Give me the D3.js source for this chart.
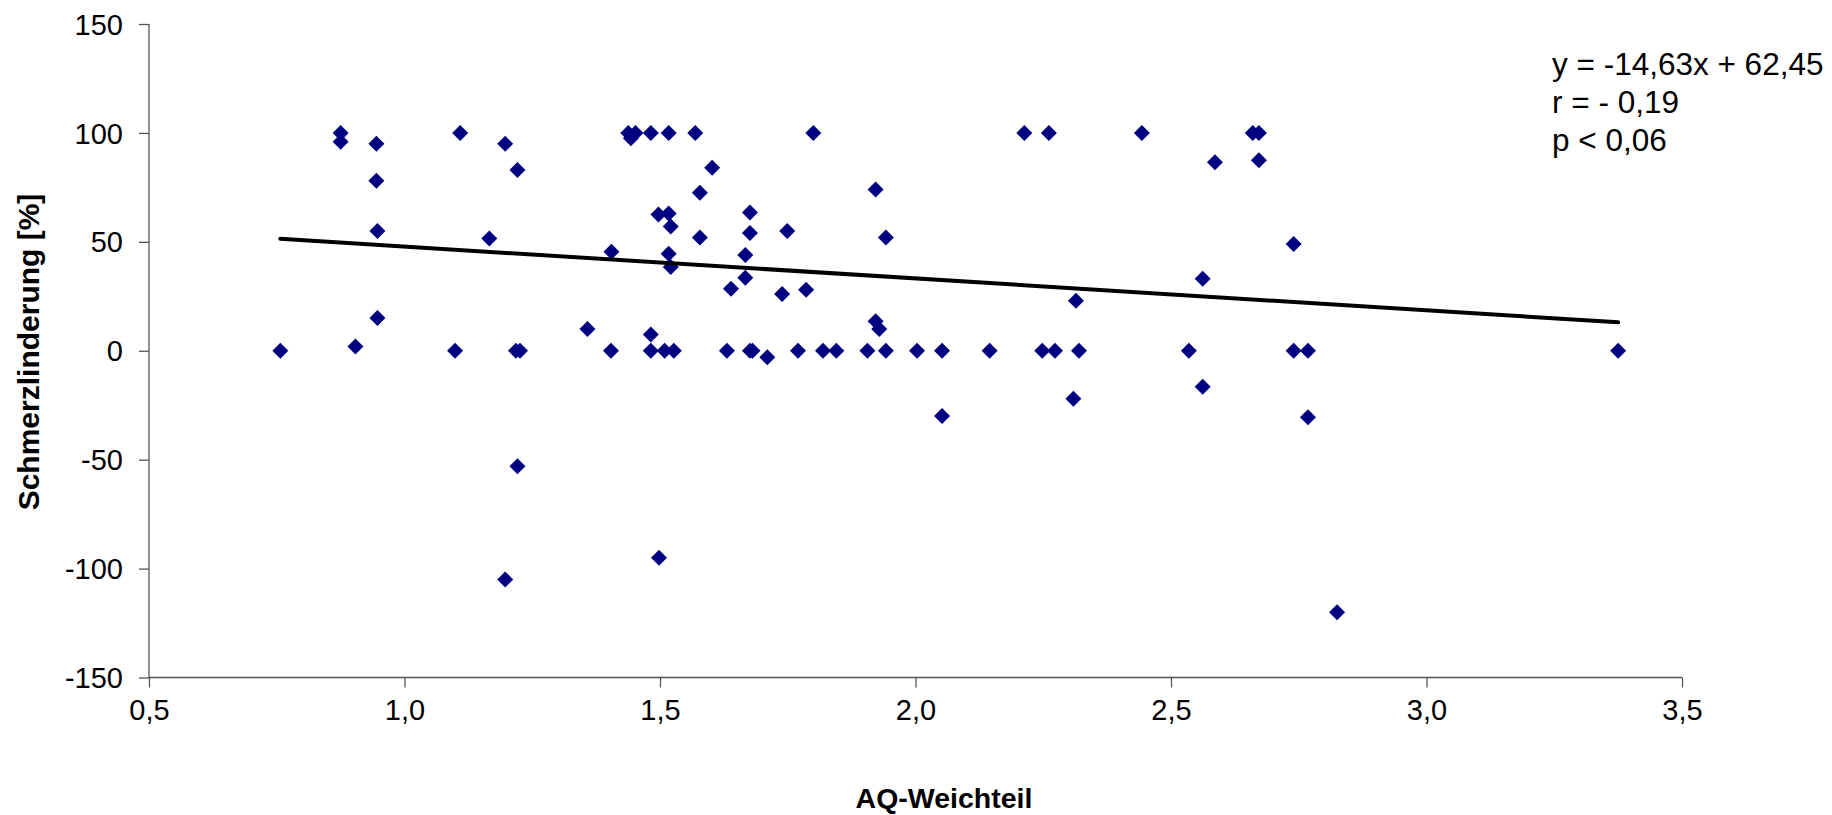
<!DOCTYPE html>
<html><head><meta charset="utf-8">
<script src="https://cdn.jsdelivr.net/npm/d3@7"></script>
<style>
html,body{margin:0;padding:0;background:#fff;}
text{font-family:"Liberation Sans",Arial,sans-serif;}
</style></head>
<body>
<svg id="chart" width="1832" height="815"></svg>
<script>
// ---- data ----
const xValues = [0.757,0.875,0.875,0.904,0.945,0.945,0.947,0.947,1.099,1.109,1.166,1.197,1.197,1.218,1.226,1.221,1.221,1.358,1.404,1.405,
  1.438,1.452,1.443,1.482,1.482,1.482,1.497,1.498,1.509,1.517,1.517,1.517,1.521,1.521,1.527,1.569,1.578,1.578,1.602,1.631,
  1.639,1.667,1.667,1.676,1.676,1.676,1.681,1.710,1.739,1.749,1.770,1.786,1.800,1.819,1.845,1.906,1.922,1.922,1.929,1.942,
  1.942,2.003,2.052,2.052,2.145,2.213,2.248,2.261,2.273,2.309,2.314,2.320,2.443,2.535,2.562,2.562,2.586,2.660,2.672,2.672,
  2.740,2.740,2.768,2.768,2.825,3.375];
const yValues = [0,100,96,2,95,78,55,15,0,100,51.5,95,-105,0,0,83,-53,10,0,45.5,
  100,100,97.5,100,7.5,0,62.5,-95,0,100,63,44.5,57,38.5,0,100,72.5,52,84,0,
  28.5,44,33.5,63.5,54,0,0,-3,26,55,0,28,100,0,0,0,74,13.5,10,52,
  0,0,0,-30,0,100,0,100,0,-22,23,0,100,0,33,-16.5,86.5,100,100,87.5,
  49,0,0,-30.5,-120,0];
const trendSlope = -14.63;
const trendIntercept = 62.45;
const xTicks = [0.5,1.0,1.5,2.0,2.5,3.0,3.5];
const xTickLabels = ["0,5","1,0","1,5","2,0","2,5","3,0","3,5"];
const yTicks = [-150,-100,-50,0,50,100,150];
const yTickLabels = ["-150","-100","-50","0","50","100","150"];
const annotationLines = ["y = -14,63x + 62,45","r = - 0,19","p < 0,06"];
const xTitle = "AQ-Weichteil";
const yTitle = "Schmerzlinderung [%]";

// ---- layout ----
const L = 149, R = 1682, T = 24, B = 677.5;
const svg = d3.select("#chart");
const x = d3.scaleLinear().domain([0.5,3.5]).range([L,R]);
const y = d3.scaleLinear().domain([-150,150]).range([B,T]);
const axisColor = "#555";

// y axis
const gy = svg.append("g").attr("transform",`translate(${L},0)`)
  .call(d3.axisLeft(y).tickValues(yTicks).tickSize(10).tickPadding(16)
    .tickFormat((d,i)=>yTickLabels[yTicks.indexOf(d)]));
// x axis
const gx = svg.append("g").attr("transform",`translate(0,${B})`)
  .call(d3.axisBottom(x).tickValues(xTicks).tickSize(10).tickPadding(12)
    .tickFormat((d)=>xTickLabels[xTicks.indexOf(d)]));
[gx,gy].forEach(g=>{
  g.select(".domain").attr("stroke",axisColor).attr("stroke-width",1.3);
  g.selectAll(".tick line").attr("stroke",axisColor).attr("stroke-width",1.3);
  g.selectAll(".tick text").attr("fill","#000").style("font-size","29px")
   .style("font-family","'Liberation Sans',Arial,sans-serif");
});
gx.select(".domain").attr("d",`M${L},0H${R}`);
gy.select(".domain").attr("d",`M0,${B}V${T}`);
gy.selectAll(".tick text").attr("dy","0.35em");

// points
const pts = xValues.map((v,i)=>({x:v,y:yValues[i]}));
const r = 8;
svg.append("g").selectAll("path").data(pts).join("path")
  .attr("transform",d=>`translate(${x(d.x)},${y(d.y)})`)
  .attr("d",`M0,${-r}L${r},0L0,${r}L${-r},0Z`)
  .attr("fill","#000080");

// trend line
const xMin = d3.min(xValues), xMax = d3.max(xValues);
svg.append("line")
  .attr("x1",x(xMin)).attr("y1",y(trendSlope*xMin+trendIntercept))
  .attr("x2",x(xMax)).attr("y2",y(trendSlope*xMax+trendIntercept))
  .attr("stroke","#000").attr("stroke-width",4).attr("stroke-linecap","round");

// annotation
svg.append("g").selectAll("text").data(annotationLines).join("text")
  .attr("x",1552).attr("y",(d,i)=>75+i*38)
  .style("font-size","31.5px").attr("fill","#000").text(d=>d);

// axis titles
svg.append("text").attr("x",944).attr("y",808).attr("text-anchor","middle")
  .style("font-size","28.5px").style("font-weight","bold").text(xTitle);
svg.append("text").attr("transform",`translate(38.5,352) rotate(-90)`)
  .attr("text-anchor","middle").style("font-size","30px").style("font-weight","bold").text(yTitle);
</script>
</body></html>
